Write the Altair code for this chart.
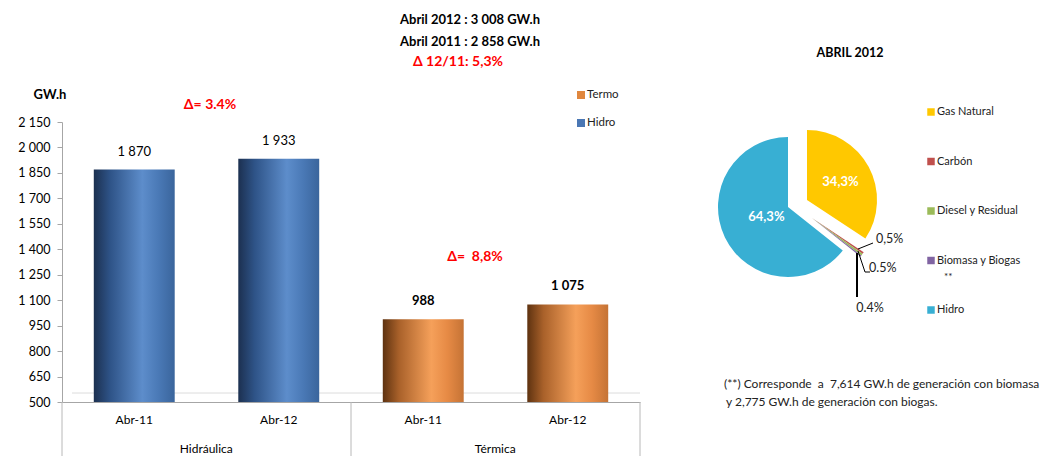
import math
import altair as alt
import pandas as pd

# ---------------- data ----------------
groups = ["Hidráulica", "Hidráulica", "Térmica", "Térmica"]
periods = ["Abr-11", "Abr-12", "Abr-11", "Abr-12"]
series = ["Hidro", "Hidro", "Termo", "Termo"]
values = [1870, 1933, 988, 1075]

y_ticks = [500, 650, 800, 950, 1100, 1250, 1400, 1550, 1700, 1850, 2000, 2150]
y_base = 500
y_top = 2150

legend_bar = ["Termo", "Hidro"]
legend_bar_colors = ["#E0873E", "#4A77B4"]

pie_names = ["Gas Natural", "Carbón", "Diesel y Residual", "Biomasa y Biogas", "Hidro"]
pie_shares = [34.3, 0.5, 0.5, 0.4, 64.3]
pie_labels = ["34,3%", "0,5%", "0.5%", "0.4%", "64,3%"]
pie_colors = ["#FFC800", "#C0504D", "#9BBB59", "#8064A2", "#38AFD3"]

title_lines = ["Abril 2012 : 3 008 GW.h", "Abril 2011 : 2 858 GW.h"]
delta_total = "Δ 12/11: 5,3%"
delta_hidro = "Δ= 3.4%"
delta_termo = "Δ=\u00a0 8,8%"
unit_label = "GW.h"
pie_title = "ABRIL 2012"
footnote = ["(**) Corresponde\u00a0 a\u00a0 7,614 GW.h de generación con biomasa",
            "y 2,775 GW.h de generación con biogas."]

FONT = "Lato"
W, H = 578, 394

keys = [g + "|" + p for g, p in zip(groups, periods)]
bars = pd.DataFrame({"key": keys, "group": groups, "period": periods,
                     "series": series, "value": values})

x_scale = alt.Scale(domain=keys, paddingInner=0.44, paddingOuter=0.22)
y_scale = alt.Scale(domain=[y_base, y_top], range=[H, 114])

x_enc = alt.X("key:N", sort=keys, scale=x_scale,
              axis=alt.Axis(title=None, labelExpr="split(datum.label, '|')[1]",
                            ticks=False, domainColor="#A6A6A6", labelPadding=12,
                            labelFontSize=12, labelColor="#000", labelAngle=0,
                            labelFont=FONT))
y_enc = alt.Y("value:Q", scale=y_scale,
              axis=alt.Axis(title=None, values=y_ticks, tickCount=len(y_ticks) + 2,
                            grid=False, labelOverlap=False,
                            labelExpr="replace(format(datum.value, ','), ',', ' ')",
                            tickSize=5, tickColor="#A6A6A6", domainColor="#A6A6A6",
                            labelPadding=7, labelFontSize=12.5, labelColor="#000",
                            labelFont=FONT))

def grad(stops):
    return alt.LinearGradient(gradient="linear", x1=0, x2=1, y1=0, y2=0,
                              stops=[alt.GradientStop(offset=o, color=c) for o, c in stops])

hidro_grad = grad([(0, "#1C3050"), (0.2, "#2E5387"), (0.6, "#5D8DCB"), (0.8, "#4A79B6"), (1, "#3A659C")])
termo_grad = grad([(0, "#5E3210"), (0.2, "#A9612A"), (0.6, "#F5A05A"), (0.8, "#E68A45"), (1, "#C57335")])

base = alt.Chart(bars)

bar_h = base.transform_filter("datum.series == 'Hidro'").mark_bar(color=hidro_grad).encode(
    x=x_enc, y=y_enc, y2=alt.datum(y_base))
bar_t = base.transform_filter("datum.series == 'Termo'").mark_bar(color=termo_grad).encode(
    x=alt.X("key:N", sort=keys, scale=x_scale), y=alt.Y("value:Q", scale=y_scale), y2=alt.datum(y_base))

lbl_expr = "replace(format(datum.value, ','), ',', ' ')"
lab_h = base.transform_filter("datum.series == 'Hidro'").transform_calculate(lbl=lbl_expr).mark_text(
    baseline="bottom", dy=-11, fontSize=13, font=FONT, color="#000").encode(
    x=alt.X("key:N", sort=keys, scale=x_scale), y=alt.Y("value:Q", scale=y_scale), text="lbl:N")
lab_t = base.transform_filter("datum.series == 'Termo'").transform_calculate(lbl=lbl_expr).mark_text(
    baseline="bottom", dy=-11, fontSize=13, font=FONT, fontWeight="bold", color="#000").encode(
    x=alt.X("key:N", sort=keys, scale=x_scale), y=alt.Y("value:Q", scale=y_scale), text="lbl:N")

grp_df = bars.drop_duplicates("group")
grp_lab = alt.Chart(grp_df).mark_text(dx=72, fontSize=12, font=FONT, color="#000").encode(
    x=alt.X("key:N", sort=keys, scale=x_scale), y=alt.value(441), text="group:N")

one = pd.DataFrame({"a": [0]})

def rule(x1, y1, x2, y2, color="#B8B8B8", width=1):
    return alt.Chart(one).mark_rule(color=color, strokeWidth=width).encode(
        x=alt.value(x1), y=alt.value(y1), x2=alt.value(x2), y2=alt.value(y2))

def txt(t, x, y, size=12, weight="normal", color="#000", align="center", baseline="middle"):
    return alt.Chart(pd.DataFrame({"t": [t]})).mark_text(
        fontSize=size, fontWeight=weight, color=color, align=align, baseline=baseline,
        font=FONT).encode(text="t:N", x=alt.value(x), y=alt.value(y))

floor = rule(10, 385, W, 385, "#DCDCDC")
seps = [rule(0, H, 0, 448), rule(289, H, 289, 448), rule(W, H, W, 448)]

texts = [
    txt(title_lines[0], 408, 12, 13, "bold"),
    txt(title_lines[1], 408, 34, 13, "bold"),
    txt(delta_total, 396, 54, 14, "bold", "#FF0000"),
    txt(unit_label, -12, 87, 13, "bold"),
    txt(delta_hidro, 148, 97, 14, "bold", "#FF0000"),
    txt(delta_termo, 413, 249, 14, "bold", "#FF0000"),
    txt(pie_title, 788, 45, 12.5, "bold"),
    txt(footnote[0], 662, 376, 12, color="#222", align="left"),
    txt(footnote[1], 664, 394, 12, color="#222", align="left"),
]

# bar legend
bar_leg = []
for i, (name, col) in enumerate(zip(legend_bar, legend_bar_colors)):
    yy = 87 + 28 * i
    bar_leg.append(alt.Chart(one).mark_square(size=64, color=col, opacity=1).encode(
        x=alt.value(519), y=alt.value(yy)))
    bar_leg.append(txt(name, 525, yy, 11.5, color="#222", align="left"))

# pie
pie = pd.DataFrame({"name": pie_names, "share": pie_shares, "label": pie_labels,
                    "idx": list(range(len(pie_names)))})
pie_base = alt.Chart(pie).transform_window(
    cum="sum(share)", sort=[alt.SortField("idx")], frame=[None, 0]
).transform_calculate(start="datum.cum - datum.share", mid="datum.cum - datum.share / 2")

th_scale = alt.Scale(domain=[0, 100], range=[0, 2 * math.pi])
col_enc = alt.Color("name:N", scale=alt.Scale(domain=pie_names, range=pie_colors), legend=None)

def arc(filter_expr, cx, cy, r=70):
    return pie_base.transform_filter(filter_expr).mark_arc(outerRadius=r, innerRadius=0).encode(
        theta=alt.Theta("start:Q", scale=th_scale, stack=False), theta2="cum:Q",
        color=col_enc, x=alt.value(cx), y=alt.value(cy))

arc_h = arc("datum.name == 'Hidro'", 726, 199)
arc_g = arc("datum.name == 'Gas Natural'", 745, 192)
arc_s = arc("datum.name != 'Hidro' && datum.name != 'Gas Natural'", 750, 210, 62)

def arc_text(filter_expr, cx, cy, r):
    return pie_base.transform_filter(filter_expr).mark_text(
        radius=r, fontSize=13, fontWeight="bold", color="white", font=FONT).encode(
        theta=alt.Theta("mid:Q", scale=th_scale, stack=False), text="label:N",
        x=alt.value(cx), y=alt.value(cy))

pie_txt = [arc_text("datum.name == 'Gas Natural'", 745, 192, 38),
           arc_text("datum.name == 'Hidro'", 726, 199, 24)]

small_pos = [(814, 231, "left"), (807, 260, "left"), (808, 300, "center")]
small_txt = [txt(pie_labels[i + 1], x, y, 12.5, color="#222", align=a)
             for i, (x, y, a) in enumerate(small_pos)]
leaders = [rule(796, 241, 811, 235, "#000"), rule(796, 243, 803, 264, "#000"),
           rule(803, 264, 808, 264, "#000"), rule(795, 245, 795, 289, "#000", 2)]

pie_leg = []
for i, (name, col) in enumerate(zip(pie_names, pie_colors)):
    yy = 104 + 49.5 * i
    pie_leg.append(alt.Chart(one).mark_square(size=56, color=col, opacity=1).encode(
        x=alt.value(869), y=alt.value(yy)))
    pie_leg.append(txt(name, 875, yy, 11, color="#222", align="left"))
pie_leg.append(txt("**", 882, 269, 10, color="#222", align="left"))

chart = alt.layer(
    floor, bar_h, bar_t, lab_h, lab_t, grp_lab, *seps, *texts, *bar_leg,
    arc_h, arc_g, arc_s, *pie_txt, *small_txt, *leaders, *pie_leg
).properties(
    width=W, height=H,
    autosize=alt.AutoSizeParams(type="none"),
    padding={"left": 54, "top": 0, "right": 405, "bottom": 54},
).configure_view(stroke=None)

chart.save("out.html", embed_options={"renderer": "svg", "actions": False})
